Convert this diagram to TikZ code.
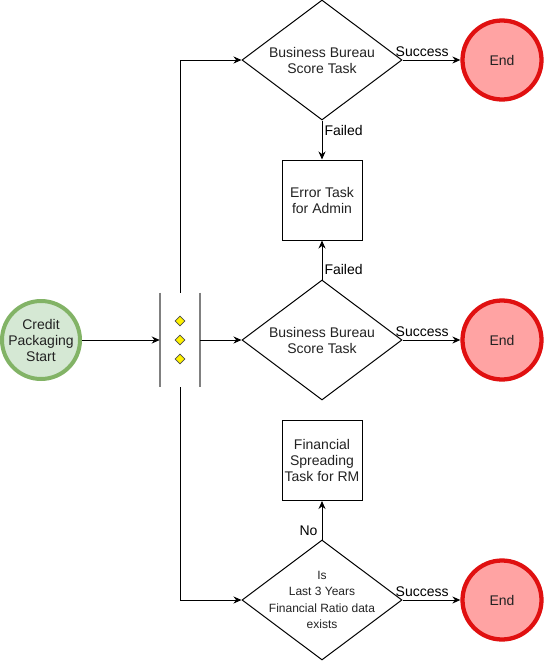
\documentclass[tikz,border=0pt]{standalone}
\usepackage{fontspec}
\setmainfont{Liberation Sans}
\usetikzlibrary{shapes.geometric,arrows.meta}
\definecolor{startfill}{HTML}{D5E8D4}
\definecolor{startline}{HTML}{82B366}
\definecolor{endfill}{HTML}{FFA3A3}
\definecolor{endline}{HTML}{E01010}
\definecolor{gwgray}{HTML}{808080}
\definecolor{txt}{HTML}{222222}
\newdimen\upx
\upx=0.75pt
\begin{document}
\begin{tikzpicture}[x=0.75pt,y=-0.75pt,
  every node/.style={font=\fontsize{10.5pt}{12pt}\selectfont, text=txt},
  startev/.style={circle, draw=startline, fill=startfill, line width=3pt, minimum size=78\upx, inner sep=0pt, align=center},
  endev/.style={circle, draw=endline, fill=endfill, line width=3.2pt, minimum size=79\upx, inner sep=0pt},
  decision/.style={diamond, draw=black, line width=0.75pt, minimum width=160\upx, minimum height=120\upx, inner sep=0pt},
  taskbox/.style={rectangle, draw=black, line width=0.75pt, minimum width=80\upx, minimum height=80\upx, inner sep=0pt, align=center},
  gwbox/.style={rectangle, draw=none, minimum width=40\upx, minimum height=94\upx, inner sep=0pt},
  gwline/.style={draw=gwgray, line width=1.5pt},
  gwmark/.style={diamond, draw=black!70, fill=yellow, line width=0.5pt, minimum size=10\upx, inner sep=0pt},
  flow/.style={draw=black, line width=0.75pt, -{Stealth[length=6pt,width=5.25pt]}},
  elabel/.style={font=\fontsize{10.5pt}{12pt}\selectfont, text=black, inner sep=0pt}
]
\useasboundingbox (0,0) rectangle (545,661);

% start event
\node[startev] (start) at (41,340) {Credit\\Packaging\\Start};

% parallel gateway
\node[gwbox] (gw) at (180,340) {};
\draw[gwline] (gw.north west) -- (gw.south west);
\draw[gwline] (gw.north east) -- (gw.south east);
\node[gwmark] (m1) at (180,321) {};
\node[gwmark] (m2) at (180,340) {};
\node[gwmark] (m3) at (180,359) {};

% decisions
\node[decision, label={[align=center]center:Business Bureau\\Score Task}] (d1) at (322,60) {};
\node[decision, label={[align=center]center:Business Bureau\\Score Task}] (d2) at (322,340) {};
\node[decision, label={[align=center, font=\fontsize{9pt}{12.2pt}\selectfont]center:Is\\Last 3 Years\\Financial Ratio data\\exists}] (d3) at (322,600) {};

% tasks
\node[taskbox] (err) at (322,200) {Error Task\\for Admin};
\node[taskbox] (fin) at (322,460.5) {Financial\\Spreading\\Task for RM};

% end events
\node[endev] (e1) at (502,60) {End};
\node[endev] (e2) at (502,340) {End};
\node[endev] (e3) at (502,600) {End};

% connectors
\draw[flow] (start) -- (gw.west);
\draw[flow] (gw.north) |- (d1.west);
\draw[flow] (gw.east) -- (d2.west);
\draw[flow] (gw.south) |- (d3.west);

\draw[flow] (d1.east) -- node[elabel, pos=0.34, anchor=base, yshift=3pt] (l1) {Success} (e1);
\draw[flow] (d2.east) -- node[elabel, pos=0.34, anchor=base, yshift=3pt] (l2) {Success} (e2);
\draw[flow] (d3.east) -- node[elabel, pos=0.34, anchor=base, yshift=3pt] (l3) {Success} (e3);

\draw[flow] (d1.south) -- node[elabel, pos=0.375, anchor=base west, xshift=1.5pt] (l4) {Failed} (err.north);
\draw[flow] (d2.north) -- node[elabel, pos=0.125, anchor=base west, xshift=1.5pt] (l5) {Failed} (err.south);
\draw[flow] (d3.north) -- node[elabel, pos=0.1, anchor=base east, xshift=-3pt] (l6) {No} (fin.south);
\end{tikzpicture}
\end{document}
